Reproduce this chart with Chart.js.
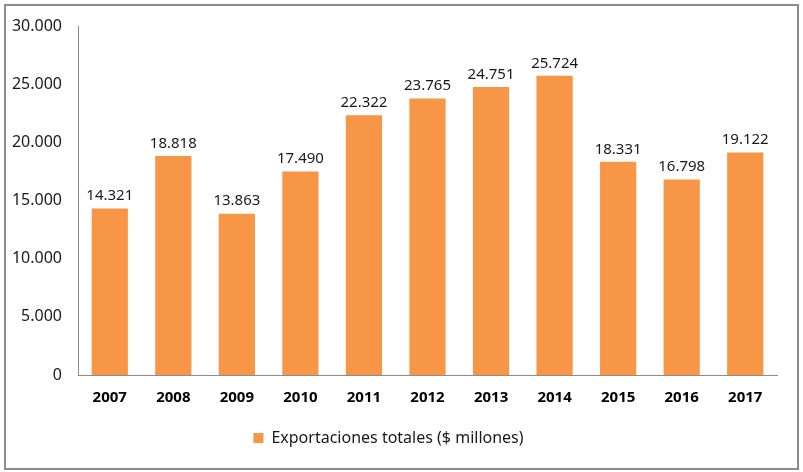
<!DOCTYPE html>
<html>
<head>
<meta charset="utf-8">
<script src="https://cdn.jsdelivr.net/npm/chart.js@4.4.1/dist/chart.umd.min.js"></script>
<style>
  body { margin: 0; background: #fff; }
  #wrap { position: relative; width: 803px; height: 472px; }
  #frame { position: absolute; left: 4px; top: 4px; width: 791px; height: 462px; border: 2px solid #8c8c8c; pointer-events: none; }
  canvas { position: absolute; left: 0; top: 0; }
</style>
</head>
<body>
<div id="wrap">
  <canvas id="grafico" width="803" height="472"></canvas>
  <div id="frame"></div>
</div>
<script>
// Datos
const anios = ['2007', '2008', '2009', '2010', '2011', '2012', '2013', '2014', '2015', '2016', '2017'];
const exportaciones = [14321, 18818, 13863, 17490, 22322, 23765, 24751, 25724, 18331, 16798, 19122];
const serieNombre = 'Exportaciones totales ($ millones)';

const fmt = v => String(Math.round(v)).replace(/\B(?=(\d{3})+(?!\d))/g, '.');
const fuente = "'Noto Sans', 'Open Sans', sans-serif";

// etiquetas sobre las barras
const etiquetas = {
  id: 'etiquetas',
  afterDatasetsDraw(chart) {
    const { ctx } = chart;
    const meta = chart.getDatasetMeta(0);
    ctx.save();
    ctx.font = '15px ' + fuente;
    ctx.fillStyle = '#1a1a1a';
    ctx.textAlign = 'center';
    ctx.textBaseline = 'bottom';
    meta.data.forEach((bar, i) => {
      ctx.fillText(fmt(exportaciones[i]), bar.x, bar.y - 5);
    });
    ctx.restore();
  }
};

new Chart(document.getElementById('grafico'), {
  type: 'bar',
  data: {
    labels: anios,
    datasets: [{
      label: serieNombre,
      data: exportaciones,
      backgroundColor: '#F79646',
      borderWidth: 0,
      barPercentage: 0.57,
      categoryPercentage: 1
    }]
  },
  options: {
    responsive: false,
    animation: false,
    layout: { padding: { top: 26, right: 26, bottom: 16, left: 0 } },
    plugins: {
      legend: {
        position: 'bottom',
        labels: {
          font: { family: fuente, size: 16 },
          color: '#1a1a1a',
          boxWidth: 10,
          boxHeight: 10,
          padding: 10
        }
      },
      tooltip: { enabled: false }
    },
    scales: {
      y: {
        min: 0,
        max: 30000,
        ticks: {
          stepSize: 5000,
          callback: v => fmt(v),
          font: { family: fuente, size: 16 },
          color: '#1a1a1a',
          padding: 16
        },
        grid: { display: false, drawTicks: false },
        border: { color: '#8c8c8c', width: 1 },
        afterFit(scale) { scale.width = 78; }
      },
      x: {
        ticks: {
          font: { family: fuente, size: 15, weight: 'bold' },
          color: '#000',
          padding: 14
        },
        grid: { display: false, drawTicks: false },
        border: { color: '#8c8c8c', width: 1 },
        afterFit(scale) { scale.height = 45; }
      }
    }
  },
  plugins: [etiquetas]
});
</script>
</body>
</html>
